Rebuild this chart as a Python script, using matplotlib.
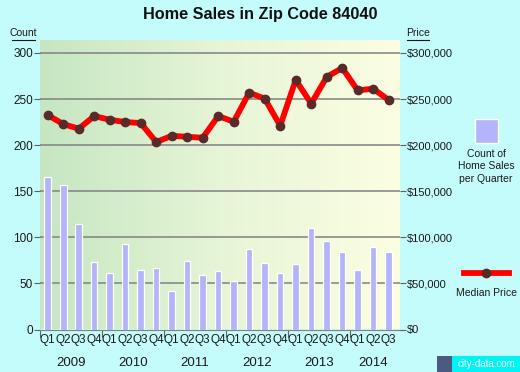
import numpy as np
import matplotlib.pyplot as plt
from matplotlib.patches import Rectangle
from matplotlib.lines import Line2D
from matplotlib.colors import LinearSegmentedColormap

plt.rcParams['font.family'] = ['Liberation Sans', 'DejaVu Sans']

# ------------------------------------------------------------------
# data
quarters = ['Q1', 'Q2', 'Q3', 'Q4'] * 5 + ['Q1', 'Q2', 'Q3']
years = ['2009', '2010', '2011', '2012', '2013', '2014']
sales_count = [165, 157, 114, 73, 61, 93, 64, 67, 42, 74, 59, 63,
               53, 87, 72, 61, 71, 110, 96, 84, 65, 90, 84]
median_price = [232500, 222800, 217800, 231500, 227500, 225000, 223900, 203300,
                210100, 209000, 208000, 231500, 225400, 256900, 250400, 221000,
                270700, 245000, 273900, 283700, 259400, 261200, 248900]
count_ticks = [0, 50, 100, 150, 200, 250, 300]
price_ticks = [0, 50000, 100000, 150000, 200000, 250000, 300000]

BG = '#c4fcfc'
BAR = '#b4b4fa'
TXT = '#1a1a1a'

# ------------------------------------------------------------------
fig = plt.figure(figsize=(5.2, 3.72), dpi=100, facecolor=BG)
ax = fig.add_axes([40 / 520, 1 - 329.5 / 372, 360 / 520, 289.5 / 372])
ax.set_facecolor(BG)

x = np.arange(len(sales_count))
xmin, xmax = -0.5, 22.73
ymax = 314

# background gradient (green -> pale yellow)
grad = np.linspace(0, 1, 256)[None, :]
cmap = LinearSegmentedColormap.from_list('bg', ['#c6e6c2', '#e6f5d6', '#fcfee2'])
ax.imshow(grad, extent=[xmin, xmax, 0, ymax], aspect='auto', cmap=cmap,
          zorder=0, interpolation='bicubic')

for t in count_ticks[1:]:
    ax.axhline(t, color='#808080', lw=1.1, zorder=1)

ax.bar(x, sales_count, width=0.42, color=BAR, edgecolor='white', linewidth=0.9, zorder=2)

ax.set_xlim(xmin, xmax)
ax.set_ylim(0, ymax)
for s in ['top', 'right', 'left']:
    ax.spines[s].set_visible(False)
ax.spines['bottom'].set_color('#808080')

ax.set_yticks(count_ticks)
ax.set_yticklabels([str(t) for t in count_ticks], fontsize=8.5, color=TXT)
ax.tick_params(axis='y', length=4, width=0.8, color='#606060', pad=1)

# x axis: year separators as ticks, quarter labels as minor labels
year_edges = [-0.5, 3.5, 7.5, 11.5, 15.5, 19.5]
ax.set_xticks(year_edges)
ax.set_xticklabels([''] * len(year_edges))
ax.tick_params(axis='x', which='major', length=5, width=0.8, color='#606060')
ax.set_xticks(x, minor=True)
ax.set_xticklabels(quarters, minor=True, fontsize=8.5, color=TXT)
ax.tick_params(axis='x', which='minor', length=0, pad=3)

year_centers = [1.5, 5.5, 9.5, 13.5, 17.5, 21.0]
for yc, yr in zip(year_centers, years):
    ax.text(yc, -0.095, yr, transform=ax.get_xaxis_transform(), ha='center',
            va='top', fontsize=9.5, color=TXT)

# price axis
ax2 = ax.twinx()
ax2.set_ylim(0, ymax * 1000)
ax2.plot(x, median_price, color='#ff0000', lw=4.2, zorder=3, solid_capstyle='round')
ax2.plot(x, median_price, 'o', color='#5a2a2a', ms=6, zorder=4)
for s in ['top', 'right', 'left', 'bottom']:
    ax2.spines[s].set_visible(False)
ax2.set_yticks(price_ticks)
ax2.set_yticklabels(['${:,}'.format(p) for p in price_ticks], fontsize=8, color=TXT)
ax2.tick_params(axis='y', length=4, width=0.8, color='#606060', pad=1)

# titles and axis captions
fig.text(0.5, 1 - 15 / 372, 'Home Sales in Zip Code 84040', ha='center', va='center',
         fontsize=11.7, fontweight='bold', color='#111111')
fig.text(23 / 520, 1 - 33 / 372, 'Count', ha='center', va='center', fontsize=7.5,
         color=TXT)
fig.add_artist(Line2D([12 / 520, 35 / 520], [1 - 40 / 372] * 2, color=TXT, lw=0.8))
fig.text(418 / 520, 1 - 33 / 372, 'Price', ha='center', va='center', fontsize=7.5,
         color=TXT)
fig.add_artist(Line2D([407 / 520, 429 / 520], [1 - 40 / 372] * 2, color=TXT, lw=0.8))

# legend
fig.add_artist(Rectangle((475 / 520, 1 - 143 / 372), 23 / 520, 24 / 372,
                         transform=fig.transFigure, facecolor=BAR,
                         edgecolor='white', lw=1))
fig.text(486 / 520, 1 - 149 / 372, 'Count of\nHome Sales\nper Quarter', ha='center',
         va='top', fontsize=7.5, color=TXT, linespacing=1.3)
fig.add_artist(Line2D([464 / 520, 509 / 520], [1 - 273 / 372] * 2, color='#ff0000',
                      lw=4.2))
fig.add_artist(Line2D([486 / 520], [1 - 273 / 372], marker='o', color='#5a2a2a', ms=6))
fig.text(486 / 520, 1 - 293 / 372, 'Median Price', ha='center', va='center',
         fontsize=7.5, color=TXT)

# watermark
fig.add_artist(Rectangle((437 / 520, 0), 83 / 520, 16 / 372, transform=fig.transFigure,
                         facecolor='#00f4f4', edgecolor='none'))
fig.add_artist(Rectangle((437 / 520, 0), 15 / 520, 16 / 372, transform=fig.transFigure,
                         facecolor='#4a5a80', edgecolor='none'))
fig.text(486 / 520, 8 / 372, 'city-data.com', ha='center', va='center', fontsize=7,
         color='white')

fig.savefig('out.png', dpi=100, facecolor=BG)
